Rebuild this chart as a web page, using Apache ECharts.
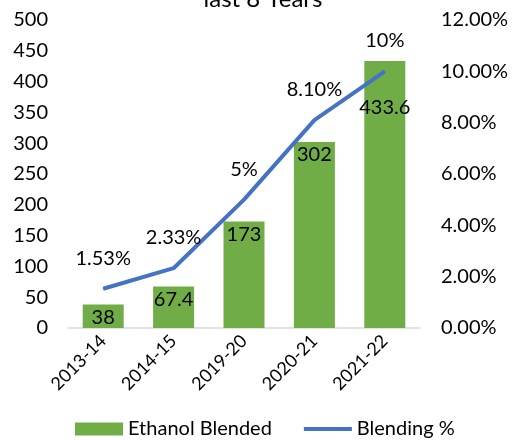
<!DOCTYPE html>
<html>
<head>
<meta charset="utf-8">
<script src="https://cdn.jsdelivr.net/npm/echarts@6/dist/echarts.min.js"></script>
<style>
  html, body { margin: 0; padding: 0; background: #fff; }
  #chart { width: 513px; height: 440px; }
</style>
</head>
<body>
<div id="chart"></div>
<script>
// values
var years = ['2013-14', '2014-15', '2019-20', '2020-21', '2021-22']
var ethanolBlended = [38, 67.4, 173, 302, 433.6]
var blendingPct = [1.53, 2.33, 5, 8.1, 10]
var pctLabels = ['1.53%', '2.33%', '5%', '8.10%', '10%']

var font = 'Lato, "Open Sans", sans-serif'
var chart = echarts.init(document.getElementById('chart'))

chart.setOption({
  animation: false,
  textStyle: { fontFamily: font },
  title: {
    text: 'last 8 Years',
    left: 258,
    top: -18,
    textAlign: 'center',
    textStyle: { fontFamily: font, fontSize: 24, fontWeight: 'normal', color: '#000' }
  },
  legend: {
    bottom: -4,
    left: 70,
    itemGap: 32,
    itemWidth: 48,
    itemHeight: 13,
    textStyle: { fontFamily: font, fontSize: 20, color: '#000' },
    data: [
      { name: 'Ethanol Blended', icon: 'rect' },
      { name: 'Blending %', icon: 'path://M0,0 L48,0 L48,4 L0,4 Z', itemStyle: { color: '#4472c4', opacity: 1 } }
    ]
  },
  grid: { left: 68, right: 93, top: 20, bottom: 112 },
  xAxis: {
    type: 'category',
    data: years,
    axisLine: { lineStyle: { color: '#d9d9d9', width: 1.5 } },
    axisTick: { show: false },
    axisLabel: { rotate: 45, fontSize: 18, color: '#000', fontFamily: font, margin: 10, interval: 0 }
  },
  yAxis: [
    {
      type: 'value',
      min: 0, max: 500, interval: 50,
      splitLine: { show: false },
      axisLine: { show: false },
      axisTick: { show: false },
      axisLabel: { fontSize: 20, color: '#000', fontFamily: font, margin: 20 }
    },
    {
      type: 'value',
      min: 0, max: 12, interval: 2,
      splitLine: { show: false },
      axisLine: { show: false },
      axisTick: { show: false },
      axisLabel: {
        fontSize: 20, color: '#000', fontFamily: font, margin: 21,
        formatter: function (v) { return v.toFixed(2) + '%' }
      }
    }
  ],
  series: [
    {
      name: 'Ethanol Blended',
      type: 'bar',
      barWidth: 41,
      itemStyle: { color: '#70ad47' },
      label: {
        show: true, position: 'insideTop', distance: 3,
        fontSize: 20, color: '#000', fontFamily: font
      },
      data: ethanolBlended.map(function (v, i) {
        if (i === ethanolBlended.length - 1) {
          return { value: v, label: { distance: 37 } }
        }
        return v
      })
    },
    {
      name: 'Blending %',
      type: 'line',
      yAxisIndex: 1,
      symbol: 'circle',
      symbolSize: 1,
      showSymbol: true,
      lineStyle: { color: '#4472c4', width: 4 },
      itemStyle: { color: '#4472c4' },
      label: {
        show: true, position: 'top', distance: 20,
        fontSize: 20, color: '#000', fontFamily: font,
        formatter: function (p) { return pctLabels[p.dataIndex] }
      },
      data: blendingPct
    }
  ]
})
</script>
</body>
</html>
